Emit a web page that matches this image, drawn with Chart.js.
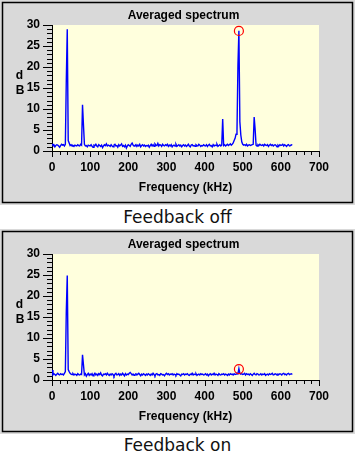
<!DOCTYPE html>
<html><head><meta charset="utf-8">
<script src="https://cdn.jsdelivr.net/npm/chart.js@4/dist/chart.umd.min.js"></script>
<style>
html,body{margin:0;padding:0;background:#fff;width:355px;height:460px;overflow:hidden;position:relative}
canvas{display:block;position:absolute;left:0}
#c1{top:0}
#c2{top:229px}
.cap{position:absolute;left:0;width:355px;text-align:center;font:17px 'DejaVu Sans',sans-serif;color:#111;line-height:20px;white-space:nowrap}
#cap1{top:207px}
#cap2{top:435px}
</style></head>
<body>
<canvas id="c1" width="355" height="205"></canvas>
<div class="cap" id="cap1">Feedback off</div>
<canvas id="c2" width="355" height="205"></canvas>
<div class="cap" id="cap2">Feedback on</div>
<script>
// ---- data ----
const chartTitle = 'Averaged spectrum';
const xAxisTitle = 'Frequency (kHz)';
const yAxisTitleLetters = ['d', 'B'];
const captions = ['Feedback off', 'Feedback on'];
const freqStepKHz = 2.5;
const xTickMax = 700, xTickStep = 100;
const yTickMax = 30, yTickStep = 5;

const offDb = [
1.7,1.4,1.5,1.0,1.3,1.5,1.4,1.2,0.9,1.3,1.6,1.4,1.5,1.2,1.6,16.9,29.0,2.5,1.9,1.3,
1.5,1.2,1.3,1.1,1.4,1.3,1.2,1.5,1.3,1.2,1.6,1.4,11.0,6.2,1.6,1.2,1.3,1.0,1.4,1.3,
1.2,1.5,1.1,0.9,1.4,1.3,1.6,1.2,1.0,1.5,1.3,1.1,1.4,0.8,1.2,1.5,1.3,1.7,1.2,1.4,
1.3,1.1,1.5,1.2,1.0,1.4,1.6,1.2,1.3,0.9,1.5,1.2,1.4,1.7,1.1,1.3,1.0,1.4,0.7,1.2,
1.5,1.3,1.1,1.6,1.9,1.4,1.2,1.3,1.5,1.1,1.4,1.2,1.6,1.0,1.3,1.5,1.2,1.4,1.1,1.3,
1.2,1.4,0.9,1.3,1.6,1.2,1.5,1.1,1.7,1.4,1.3,1.8,1.2,1.5,1.4,1.1,1.6,1.3,1.2,1.5,
1.3,1.6,1.1,1.4,1.2,1.5,1.0,1.3,1.4,1.2,1.6,1.1,1.3,1.5,1.2,1.4,1.0,1.3,1.5,1.2,
1.4,1.1,1.3,1.6,1.2,1.0,1.4,1.5,1.2,1.3,1.1,1.5,1.3,1.2,1.6,1.4,1.1,1.3,1.2,1.5,
1.3,1.2,1.5,1.1,1.4,1.6,1.2,1.3,1.0,1.5,1.2,1.4,1.3,1.6,1.1,1.3,1.5,1.2,1.4,7.6,
1.3,1.5,1.2,1.4,1.6,1.3,1.5,1.7,1.4,1.6,1.9,2.5,3.0,4.0,4.8,20.5,28.6,7.0,3.8,2.2,
1.6,1.4,1.5,1.3,1.6,1.2,1.4,1.5,1.3,1.4,1.5,1.6,8.1,5.2,1.4,1.2,1.5,1.3,1.6,1.4,
1.3,1.5,1.2,1.6,1.4,1.3,1.5,1.1,1.4,1.6,1.3,1.5,1.2,1.4,1.5,1.3,1.0,1.4,1.2,1.5,
1.3,1.4,1.6,1.2,1.5,1.3,1.1,1.4,1.5,1.2,1.3,1.5,1.4
];
const onDb = [
2.4,1.2,1.5,1.3,1.1,1.4,1.6,1.3,1.2,1.5,1.3,1.4,1.2,1.6,2.0,16.4,24.9,2.5,2.0,1.6,
1.4,1.3,1.5,1.2,1.4,1.3,1.1,1.5,1.3,1.2,1.4,1.3,6.0,3.6,1.2,1.5,0.9,1.3,1.6,1.1,
1.4,1.2,1.5,1.0,1.3,1.6,1.2,1.4,1.1,1.5,1.3,1.7,1.2,1.0,1.4,1.3,1.5,1.2,1.6,1.3,
1.1,1.4,1.2,1.5,1.3,0.9,1.4,1.6,1.2,1.3,1.5,1.1,1.4,1.2,1.6,1.3,1.0,1.5,1.2,1.4,
1.3,1.6,1.8,1.5,1.2,1.4,1.1,1.3,1.5,1.2,1.4,1.6,1.3,1.0,1.4,1.2,1.5,1.3,1.1,1.4,
1.2,1.5,1.3,1.1,1.4,1.2,1.6,1.3,1.0,1.4,1.5,1.2,1.3,1.1,1.5,1.4,1.2,1.3,1.0,1.4,
1.6,1.3,1.5,1.2,1.4,1.3,1.5,1.2,1.4,1.3,1.1,1.5,1.3,1.4,1.2,1.0,1.4,1.3,1.5,1.2,
1.4,1.3,1.5,1.2,1.1,1.4,1.3,1.6,1.2,1.4,1.3,1.5,1.1,1.3,1.4,1.2,1.5,1.3,1.4,1.2,
1.3,1.5,1.2,1.4,1.0,1.3,1.5,1.2,1.4,1.3,1.6,1.2,1.4,1.3,1.1,1.5,1.3,1.2,1.4,1.3,
1.5,1.2,1.4,1.3,1.1,1.4,1.2,1.5,1.3,1.4,1.2,1.5,1.3,1.4,1.6,1.5,2.7,1.6,1.4,1.5,
1.3,1.4,1.6,1.2,1.5,1.3,1.4,1.2,1.5,1.3,1.1,1.4,1.6,1.3,1.2,1.5,1.4,1.2,1.3,1.5,
1.2,1.4,1.3,1.5,1.1,1.3,1.4,1.2,1.5,1.3,1.4,1.6,1.2,1.3,1.5,1.4,1.2,1.4,1.3,1.5,
1.4,1.2,1.5,1.6,1.3,1.4,1.2,1.5,1.6,1.3,1.4,1.5,1.3
];
const markerFreqKHz = [490];
const offMarkerDb = [28.6];
const onMarkerDb = [2.6];

// ---- rendering ----
const FONT = "'Liberation Sans', Arial, Helvetica, sans-serif";
Chart.defaults.font.family = FONT;
Chart.defaults.font.size = 12;
Chart.defaults.font.weight = 'bold';
Chart.defaults.color = '#000';

const panelPlugin = {
  id: 'panel',
  beforeDraw(chart) {
    const {ctx, chartArea: a, width, height} = chart;
    ctx.save();
    ctx.fillStyle = '#d9d9d9';
    ctx.fillRect(0, 0, width, height);
    ctx.strokeStyle = '#000';
    ctx.lineWidth = 1.5;
    ctx.strokeRect(2.5, 2.5, width - 5, height - 5);
    ctx.fillStyle = '#ffffdd';
    ctx.fillRect(a.left, a.top, a.right - a.left, a.bottom - a.top);
    ctx.restore();
  },
  afterDraw(chart) {
    const {ctx, chartArea: a, scales} = chart;
    const xs = scales.x, ys = scales.y;
    ctx.save();
    ctx.strokeStyle = '#000';
    ctx.lineWidth = 1;
    ctx.beginPath();
    for (let v = 0; v <= yTickMax; v += 1) {
      const y = Math.round(ys.getPixelForValue(v)) + 0.5;
      const len = v % yTickStep === 0 ? 9 : 5;
      ctx.moveTo(a.left - len, y);
      ctx.lineTo(a.left, y);
    }
    for (let v = 0; v <= xTickMax; v += 20) {
      const x = Math.round(xs.getPixelForValue(v)) + 0.5;
      const len = v % xTickStep === 0 ? 6 : 4;
      ctx.moveTo(x, a.bottom);
      ctx.lineTo(x, a.bottom + len);
    }
    ctx.stroke();
    ctx.fillStyle = '#000';
    ctx.font = 'bold 12px ' + FONT;
    ctx.textAlign = 'center';
    ctx.textBaseline = 'middle';
    ctx.fillText(chartTitle, (a.left + a.right) / 2 - 2, 15.5);
    ctx.fillText(yAxisTitleLetters[0], 19.5, a.top + 51);
    ctx.fillText(yAxisTitleLetters[1], 20, a.top + 65.5);
    ctx.restore();
  }
};

function makeChart(id, values, markerDb) {
  const freqKHz = values.map((_, i) => i * freqStepKHz);
  const pts = values.map((v, i) => ({x: freqKHz[i], y: v}));
  const mk = markerFreqKHz.map((f, i) => ({x: f, y: markerDb[i]}));
  return new Chart(document.getElementById(id), {
    type: 'line',
    data: {
      datasets: [
        {type: 'scatter', data: mk, pointStyle: 'circle', pointRadius: 4.5,
         borderColor: '#ff0000', backgroundColor: 'rgba(0,0,0,0)', borderWidth: 1.2, order: 0},
        {data: pts, borderColor: '#0000ff', borderWidth: 1.4, pointRadius: 0,
         tension: 0, fill: false, order: 1}
      ]
    },
    options: {
      responsive: false,
      animation: false,
      devicePixelRatio: 1,
      layout: {padding: {left: 0, right: 36, top: 25, bottom: 0}},
      plugins: {
        legend: {display: false},
        tooltip: {enabled: false},
        title: {display: false}
      },
      scales: {
        x: {
          type: 'linear', min: 0, max: xTickMax,
          ticks: {stepSize: xTickStep, padding: 3, color: '#000', maxRotation: 0,
                  font: {size: 12, weight: 'bold'}},
          grid: {drawOnChartArea: false, drawTicks: true, tickLength: 6, tickColor: 'rgba(0,0,0,0)'},
          border: {display: true, color: '#000', width: 1},
          title: {display: true, text: xAxisTitle, color: '#000',
                  font: {size: 12, weight: 'bold'}, padding: {top: 0, bottom: 10}},
          afterFit(s) { s.height = 54; }
        },
        y: {
          type: 'linear', min: 0, max: yTickMax,
          ticks: {stepSize: yTickStep, padding: 3, color: '#000',
                  font: {size: 12, weight: 'bold'}},
          grid: {drawOnChartArea: false, drawTicks: true, tickLength: 9, tickColor: 'rgba(0,0,0,0)'},
          border: {display: true, color: '#000', width: 1},
          afterFit(s) { s.width = 52; }
        }
      }
    },
    plugins: [panelPlugin]
  });
}

document.getElementById('cap1').textContent = captions[0];
document.getElementById('cap2').textContent = captions[1];
makeChart('c1', offDb, offMarkerDb);
makeChart('c2', onDb, onMarkerDb);
</script>
</body></html>
